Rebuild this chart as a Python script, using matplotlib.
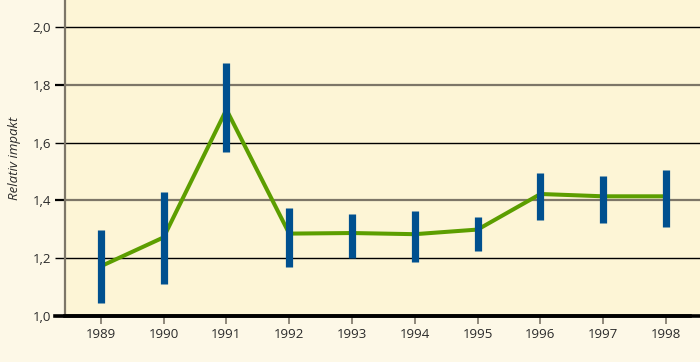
import matplotlib
matplotlib.use("Agg")
import matplotlib.pyplot as plt
import matplotlib.transforms as mtransforms
from matplotlib.lines import Line2D

years = [1989, 1990, 1991, 1992, 1993, 1994, 1995, 1996, 1997, 1998]
impact = [1.172, 1.272, 1.714, 1.285, 1.287, 1.283, 1.299, 1.422, 1.414, 1.414]
ci_low = [1.046, 1.111, 1.568, 1.168, 1.201, 1.187, 1.226, 1.331, 1.322, 1.308]
ci_high = [1.298, 1.429, 1.874, 1.375, 1.352, 1.364, 1.342, 1.496, 1.484, 1.505]
yticks = [1.0, 1.2, 1.4, 1.6, 1.8, 2.0]
ytick_labels = ["1,0", "1,2", "1,4", "1,6", "1,8", "2,0"]

plt.rcParams['font.family'] = ['Open Sans', 'DejaVu Sans']

fig = plt.figure(figsize=(7.0, 3.62), dpi=100, facecolor='#fdf8e7')
ax = fig.add_axes([65/700, 46/362, 635/700, 316/362])
ax.set_facecolor('#fdf5d6')

ax.set_xlim(1988.43, 1998.54)
ax.set_ylim(1.0, 2.093)

black_lines = [1.2, 1.6, 2.0]
gray_lines = [1.4, 1.8]
for y in black_lines:
    ax.axhline(y, color='black', lw=1.0, zorder=1)
for y in gray_lines:
    ax.axhline(y, color='#7d7668', lw=1.6, zorder=1)

# line
ax.plot(years, impact, color='#5c9e00', lw=2.9, zorder=2, solid_joinstyle='miter')
# error bars
ax.vlines(years, ci_low, ci_high, color='#00508f', lw=5.2, zorder=3)

for s in ['top', 'right']:
    ax.spines[s].set_visible(False)
ax.spines['left'].set_color('#7d7668')
ax.spines['left'].set_linewidth(1.6)
ax.spines['bottom'].set_visible(False)

# bottom thick line extending past left spine
trans = mtransforms.blended_transform_factory(ax.transAxes, ax.transData)
offset = mtransforms.ScaledTranslation(-10/100, 0, fig.dpi_scale_trans)
ax.add_line(Line2D([0, 1], [1.0, 1.0], transform=trans + offset, color='black',
                   lw=2.6, clip_on=False, zorder=5))
ax.add_line(Line2D([0, 1], [1.0, 1.0], transform=trans, color='black',
                   lw=2.6, clip_on=False, zorder=5))

ax.set_yticks(yticks)
ax.set_yticklabels(ytick_labels)
ax.tick_params(axis='y', length=7.2, width=1.0, pad=3, labelsize=9.5,
               labelcolor='#2a2a2a')
for t, y in zip(ax.yaxis.get_major_ticks(), yticks):
    c = 'black' if (y in black_lines or y == 1.0) else '#7d7668'
    t.tick1line.set_color(c)
    t.tick1line.set_markeredgewidth(1.0 if c == 'black' else 1.6)

ax.set_xticks(years)
ax.set_xticklabels([str(y) for y in years])
ax.tick_params(axis='x', length=6, width=1.2, color='#7d7668', pad=3,
               labelsize=9.5, labelcolor='#2a2a2a')

ax.set_ylabel('Relativ impakt', fontstyle='italic', fontsize=9.5,
              color='#2a2a2a', labelpad=8)

fig.savefig('out.png', dpi=100, facecolor=fig.get_facecolor())
